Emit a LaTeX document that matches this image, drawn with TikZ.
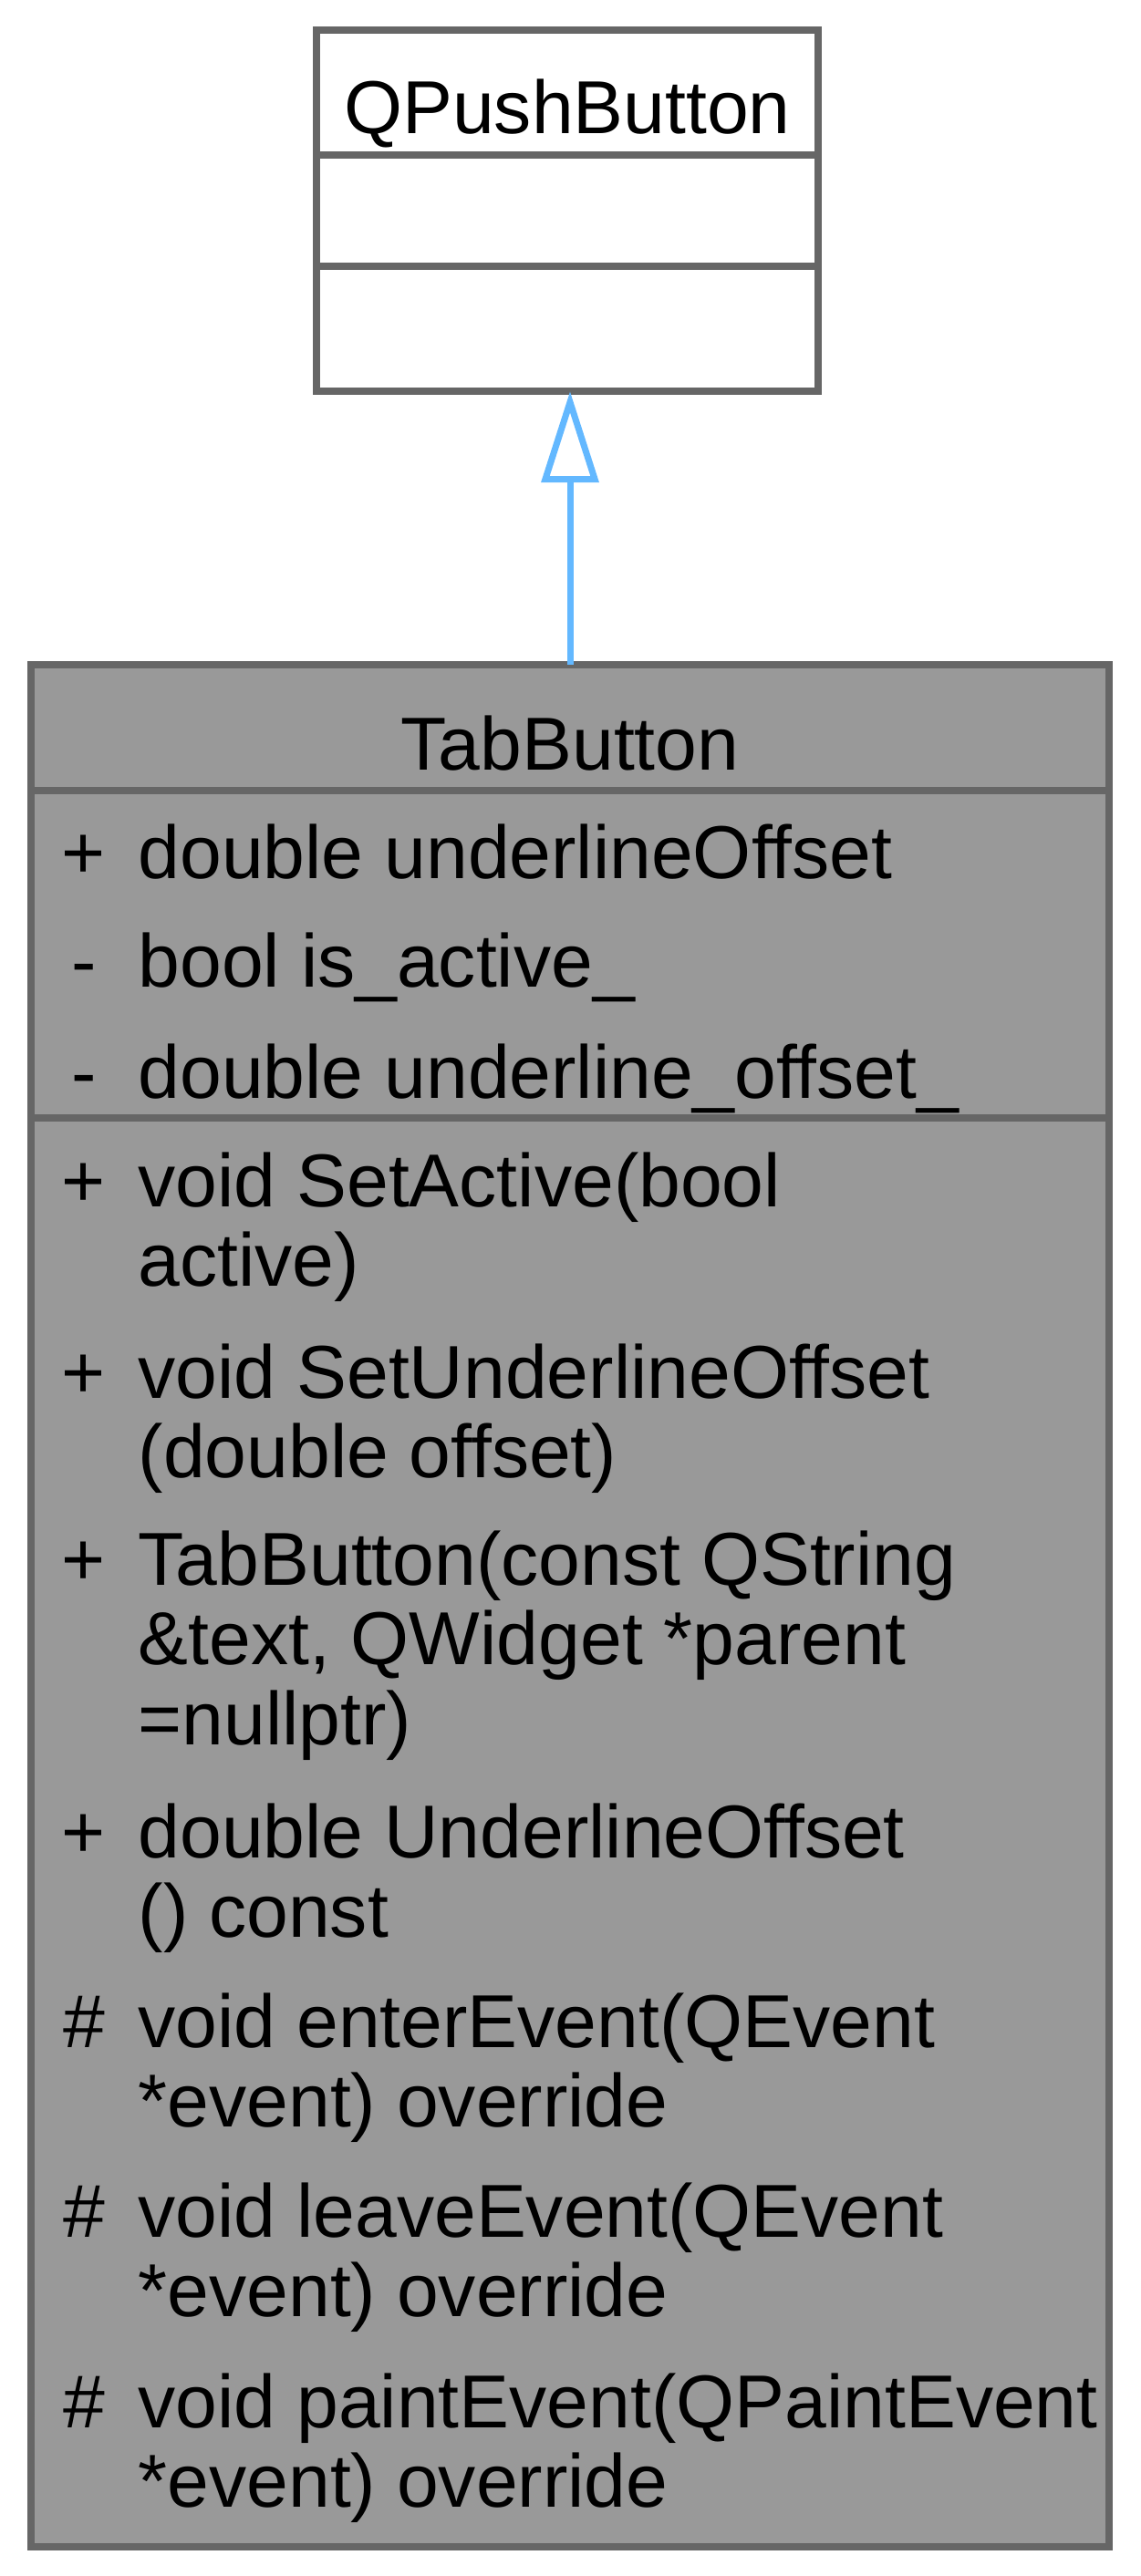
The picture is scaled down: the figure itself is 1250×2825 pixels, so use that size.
\documentclass[tikz,border=0pt]{standalone}
\usepackage{fontspec}
\setmainfont{Liberation Sans}
\usetikzlibrary{positioning,chains,scopes,arrows.meta}
\definecolor{boxgray}{HTML}{666666}
\definecolor{fillgray}{HTML}{999999}
\definecolor{inheritblue}{HTML}{63B8FF}
\newcommand{\membtext}[1]{\begin{tabular}[t]{@{}l@{}}#1\end{tabular}}
\tikzset{
	x=0.01cm, y=-0.01cm,
	node distance=0pt,
	part/.style={draw=boxgray, line width=0.08cm, inner sep=0pt, outer sep=0pt},
	member/.style={anchor=base west, inner sep=0pt,
		font=\fontsize{23.4}{25}\selectfont},
	memsym/.style={anchor=base, inner sep=0pt, font=\fontsize{23.4}{25}\selectfont},
	inherit/.style={draw=inheritblue, line width=0.07cm,
		-{Triangle[length=1.0cm, width=0.62cm, fill=white]}},
}

\begin{document}
\begin{tikzpicture}
	\useasboundingbox (0,0) rectangle (1250,2825);

	% base class
	{ [start chain=qpb going below]
	\node[part, fill=white, minimum width=5.5cm, minimum height=1.37cm] [on chain] (qpbtitle) at (622,101.5) {};
	\node[part, fill=white, minimum width=5.5cm, minimum height=1.22cm] [on chain] (qpbattr) {};
	\node[part, fill=white, minimum width=5.5cm, minimum height=1.37cm] [on chain] (qpbops) {};
	}
	\node[memsym] (qpbname) at (622,147) {QPushButton};

	% derived class
	{ [start chain=tb going below]
	\node[part, fill=fillgray, minimum width=11.82cm, minimum height=1.38cm] [on chain] (tbtitle) at (625,798) {};
	\node[part, fill=fillgray, minimum width=11.82cm, minimum height=3.59cm] [on chain] (tbattr) {};
	\node[part, fill=fillgray, minimum width=11.82cm, minimum height=15.66cm] [on chain] (tbops) {};
	}
	\node[memsym] (tbname) at (625,844) {TabButton};

	\foreach \sym/\txt/\y [count=\i] in {
		{+}/{double underlineOffset}/963,
		{-}/{bool is\_active\_}/1082,
		{-}/{double underline\_offset\_}/1204}
	{
		\node[memsym] (attrsym\i) at (92,\y) {\sym};
		\node[member] (attr\i) at (151,\y) {\membtext{\txt}};
	}

	\foreach \sym/\txt/\y [count=\i] in {
		{+}/{void SetActive(bool\\active)}/1323,
		{+}/{void SetUnderlineOffset\\(double offset)}/1533,
		{+}/{TabButton(const QString\\\&text, QWidget *parent\\=nullptr)}/1738,
		{+}/{double UnderlineOffset\\() const}/2037,
		{\#}/{void enterEvent(QEvent\\{}*event) override}/2245,
		{\#}/{void leaveEvent(QEvent\\{}*event) override}/2453,
		{\#}/{void paintEvent(QPaintEvent\\{}*event) override}/2662}
	{
		\node[memsym] (opsym\i) at (92,\y) {\sym};
		\node[member] (op\i) at (151,\y) {\membtext{\txt}};
	}

	\draw[inherit] (tbtitle.north) -- (tbtitle.north |- qpbops.south);
\end{tikzpicture}
\end{document}
